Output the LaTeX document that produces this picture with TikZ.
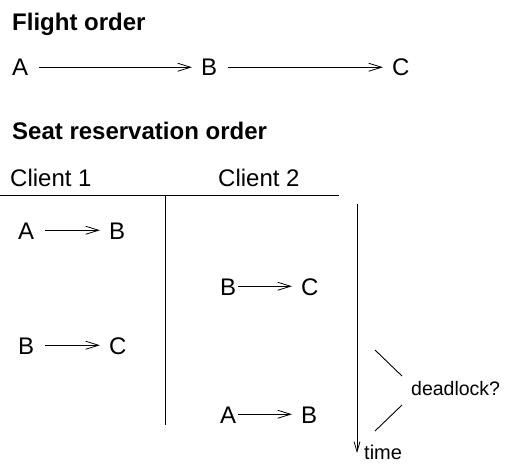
\documentclass[tikz,border=0pt]{standalone}
\usepackage{fontspec}
\setmainfont{Liberation Sans}
\usetikzlibrary{arrows.meta}
\begin{document}
\begin{tikzpicture}[x=1pt,y=-1pt,
  lbl/.style={anchor=base west,inner sep=0pt,text height=17.5pt,text depth=0pt,font=\fontsize{24}{28}\selectfont},
  ttl/.style={anchor=base west,inner sep=0pt,font=\fontsize{24}{28}\selectfont\bfseries},
  small/.style={anchor=base west,inner sep=0pt,font=\fontsize{19.5}{23}\selectfont},
  arr/.style={line width=0.9pt,-{Straight Barb[length=13pt,width=8pt,line width=0.8pt]}},
  ln/.style={line width=0.9pt}]
\useasboundingbox (0,0) rectangle (505,465);
% Flight order
\node[ttl] (t1) at (12,31) {Flight order};
\node[lbl] (fA) at (12,76) {A};
\node[lbl] (fB) at (201,76) {B};
\node[lbl] (fC) at (392,76) {C};
\draw[arr] ([xshift=11pt]fA.east) -- ([xshift=-9pt]fB.west);
\draw[arr] ([xshift=11pt]fB.east) -- ([xshift=-9pt]fC.west);
% Seat reservation order
\node[ttl] (t2) at (12,140) {Seat reservation order};
\node[lbl] (cl1) at (10,186) {Client 1};
\node[lbl] (cl2) at (218,186) {Client 2};
\coordinate (hl) at (0,195);
\coordinate (hr) at (339,195);
\draw[ln] (hl) -- (hr);
\coordinate (vt) at (165,195);
\coordinate (vb) at (165,425);
\draw[ln] (vt) -- (vb);
% client 1
\node[lbl] (a1) at (18,239) {A};
\node[lbl] (b1) at (109,239) {B};
\draw[arr] ([xshift=11pt]a1.east) -- ([xshift=-9pt]b1.west);
\node[lbl] (b2) at (18,354) {B};
\node[lbl] (c2) at (109,354) {C};
\draw[arr] ([xshift=11pt]b2.east) -- ([xshift=-9pt]c2.west);
% client 2
\node[lbl] (b3) at (220,295) {B};
\node[lbl] (c3) at (301,295) {C};
\draw[arr] ([xshift=2pt]b3.east) -- ([xshift=-9pt]c3.west);
\node[lbl] (a4) at (220,423) {A};
\node[lbl] (b4) at (301,423) {B};
\draw[arr] ([xshift=2pt]a4.east) -- ([xshift=-9pt]b4.west);
% time
\coordinate (tt) at (357,204);
\coordinate (tb) at (357,453);
\draw[line width=0.9pt,-{Straight Barb[length=10pt,width=6pt,line width=0.8pt]}] (tt) -- (tb);
\node[small,font=\fontsize{20}{24}\selectfont] (time) at (364,459) {time};
% deadlock
\node[small] (dl) at (411,395) {deadlock?};
\coordinate (d1a) at (375,350);
\coordinate (d1b) at (402,376);
\coordinate (d2a) at (402,405);
\coordinate (d2b) at (375,431);
\draw[ln] (d1a) -- (d1b);
\draw[ln] (d2a) -- (d2b);
\end{tikzpicture}
\end{document}
